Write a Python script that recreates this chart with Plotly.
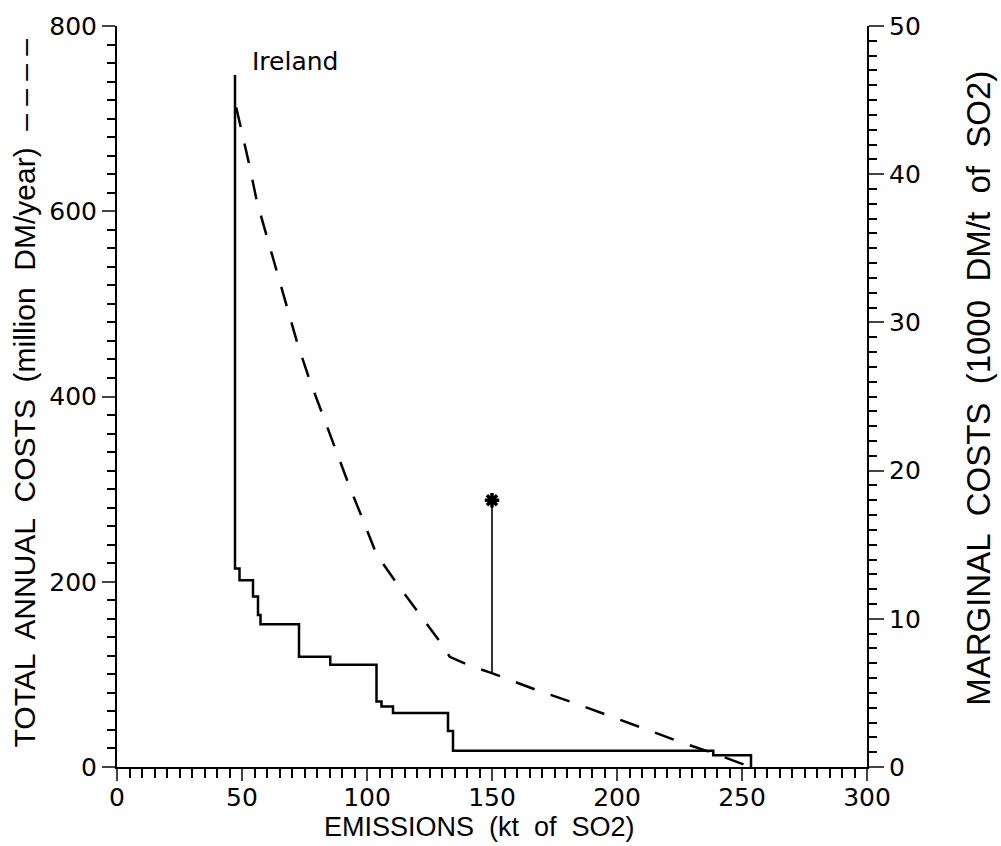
import plotly.graph_objects as go

# Marginal cost step curve (right axis, 1000 DM/t of SO2)
mc_emissions = [47.2, 47.2, 49.0, 54.4, 56.4, 57.4, 72.8, 85.3, 103.8, 105.8, 110.4, 132.4, 134.4, 238.5, 253.6]
mc_costs = [46.7, 13.4, 12.6, 11.5, 10.25, 9.63, 7.44, 6.9, 4.42, 4.09, 3.64, 2.43, 1.09, 0.8, 0.0]

# Total annual cost curve (left axis, million DM/year)
tc_emissions = [47.7, 49.7, 53.0, 56.0, 60.1, 64.0, 68.1, 72.1, 77.1, 82.4, 87.5, 92.8, 98.4, 103.8,
                111.8, 121.1, 129.8, 133.1, 141.1, 149.1, 168.3, 183.1, 197.2, 210.4, 225.2, 238.4, 253.2]
tc_costs = [712, 688.5, 649.1, 609.9, 570.5, 533.0, 493.6, 457.9, 417.5, 379.3, 341.8, 304.2, 266.7, 229.5,
            198.7, 165.1, 133.0, 119.0, 109.4, 102.2, 82.6, 69.0, 54.7, 41.8, 27.1, 15.0, 0.3]

# Marked target point
target_x = [150.0, 150.0]
target_y = [101.0, 288.0]

label_text = "Ireland"
label_x = 53.0
label_y = 762

x_ticks = [0, 50, 100, 150, 200, 250, 300]
y_ticks = [0, 200, 400, 600, 800]
y2_ticks = [0, 10, 20, 30, 40, 50]

TICKFONT = dict(family="DejaVu Sans", size=25, color="black")
TITLEFONT = dict(family="Liberation Sans, Arial", size=27, color="black")

fig = go.Figure()

fig.add_trace(go.Scatter(
    x=tc_emissions, y=tc_costs, mode="lines",
    line=dict(color="black", width=2.5, dash="20px,17px"),
    yaxis="y", showlegend=False, hoverinfo="skip"))

fig.add_trace(go.Scatter(
    x=mc_emissions, y=mc_costs, mode="lines",
    line=dict(color="black", width=2.5, shape="hv"),
    yaxis="y2", showlegend=False, hoverinfo="skip"))

fig.add_trace(go.Scatter(
    x=target_x, y=target_y, mode="lines",
    line=dict(color="black", width=1.6),
    yaxis="y", showlegend=False, hoverinfo="skip"))

fig.add_trace(go.Scatter(
    x=[target_x[-1]], y=[target_y[-1]], mode="markers",
    marker=dict(symbol="asterisk-open", size=12, color="black", line=dict(color="black", width=3.5)),
    yaxis="y", showlegend=False, hoverinfo="skip"))

fig.add_annotation(x=label_x, y=label_y, xref="x", yref="y", text=label_text,
                   showarrow=False, xanchor="left", yanchor="middle",
                   font=dict(family="DejaVu Sans", size=25, color="black"))

fig.update_layout(
    width=1001, height=846,
    margin=dict(l=117, r=134, t=20, b=79),
    paper_bgcolor="white", plot_bgcolor="white",
    xaxis=dict(range=[0, 300], tickvals=x_ticks, ticks="outside", ticklen=12, tickwidth=2,
               showline=True, linewidth=2, linecolor="black", showgrid=False, zeroline=False,
               tickfont=TICKFONT, ticklabelstandoff=-5,
               minor=dict(dtick=5, ticks="outside", ticklen=9, tickwidth=2, tickcolor="black", showgrid=False)),
    yaxis=dict(range=[0, 800], tickvals=y_ticks, ticks="outside", ticklen=13, tickwidth=2,
               showline=True, linewidth=2, linecolor="black", showgrid=False, zeroline=False,
               tickfont=TICKFONT,
               minor=dict(dtick=20, ticks="outside", ticklen=8, tickwidth=2, tickcolor="black", showgrid=False)),
    yaxis2=dict(range=[0, 50], tickvals=y2_ticks, overlaying="y", side="right", ticks="outside",
                ticklen=15, tickwidth=2, showline=True, linewidth=2, linecolor="black",
                showgrid=False, zeroline=False, tickfont=TICKFONT,
                minor=dict(dtick=1, ticks="outside", ticklen=8, tickwidth=2, tickcolor="black", showgrid=False)),
)

fig.add_annotation(text="EMISSIONS  (kt  of  SO2)", xref="paper", yref="paper", x=0.4837, y=-0.0815,
                   showarrow=False, xanchor="center", yanchor="middle", font=TITLEFONT)
fig.add_annotation(text="TOTAL  ANNUAL  COSTS  (million  DM/year)  – – – –", xref="paper", yref="paper",
                   x=-0.1234, y=0.5047, textangle=-90, showarrow=False, xanchor="center", yanchor="middle",
                   font=dict(family="Liberation Sans, Arial", size=30, color="black"))
fig.add_annotation(text="MARGINAL  COSTS  (1000  DM/t  of  SO2)", xref="paper", yref="paper",
                   x=1.1495, y=0.5105, textangle=-90, showarrow=False, xanchor="center", yanchor="middle",
                   font=dict(family="Liberation Sans, Arial", size=33, color="black"))

fig.write_html("out.html")
